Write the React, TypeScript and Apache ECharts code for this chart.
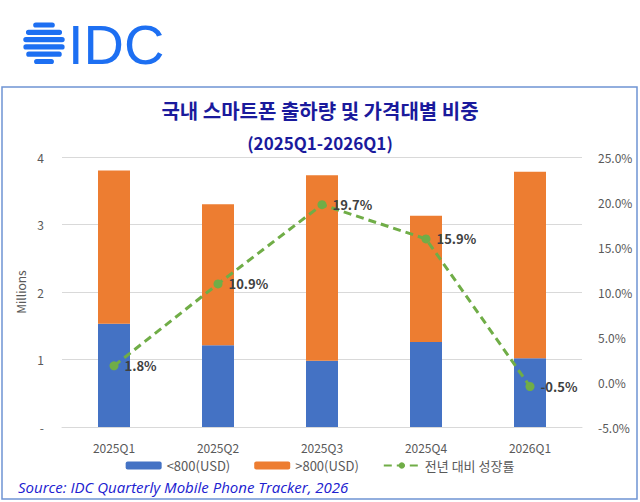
import { useEffect, useRef } from "react";
import * as echarts from "echarts";

const quarters = ["2025Q1", "2025Q2", "2025Q3", "2025Q4", "2026Q1"];
const under800 = [1.53, 1.21, 0.98, 1.26, 1.02];
const over800 = [2.27, 2.09, 2.75, 1.87, 2.76];
const yoyGrowth = [1.8, 10.9, 19.7, 15.9, -0.5];

const FONT = "'Noto Sans CJK KR', 'Noto Sans', sans-serif";

export default function App() {
  const ref = useRef<HTMLDivElement>(null);

  useEffect(() => {
    document.body.style.margin = "0";
    if (!ref.current) return;
    const chart = echarts.init(ref.current, null, { renderer: "svg" });

    const stripes = [0, 1, 2, 3, 4, 5].map((i) => {
      const cy = 22 + i * 7.3 + 3;
      const r = 21;
      const dy = cy - 43;
      const half = Math.sqrt(Math.max(r * r - dy * dy, 0));
      return {
        type: "rect",
        shape: { x: 44 - half, y: cy - 2.6, width: half * 2, height: 5.2, r: 2.6 },
        style: { fill: "#1d6ff2" },
      };
    });

    chart.setOption({
      animation: false,
      textStyle: { fontFamily: FONT },
      title: [
        {
          text: "국내 스마트폰 출하량 및 가격대별 비중",
          left: "center",
          top: 95,
          textStyle: { fontSize: 20, fontWeight: "bold", color: "#1a1a9c", fontFamily: FONT },
        },
        {
          text: "(2025Q1-2026Q1)",
          left: "center",
          top: 129,
          textStyle: { fontSize: 17, fontWeight: "bold", color: "#1a1a9c", fontFamily: FONT },
        },
      ],
      graphic: [
        {
          type: "rect",
          shape: { x: 2, y: 87, width: 635, height: 412 },
          style: { fill: "none", stroke: "#6f94d4", lineWidth: 1.5 },
        },
        ...stripes,
        {
          type: "text",
          x: 68,
          y: 16,
          style: {
            text: "IDC",
            fontSize: 56,
            fontFamily: "'Liberation Sans', Arial, sans-serif",
            fill: "#1d6ff2",
          },
        },
        {
          type: "text",
          x: 18,
          y: 479,
          style: {
            text: "Source: IDC Quarterly Mobile Phone Tracker, 2026",
            fontSize: 15,
            fontStyle: "italic",
            fontFamily: "'Open Sans', 'Noto Sans', sans-serif",
            fill: "#2020d0",
          },
        },
      ],
      legend: {
        top: 454,
        left: "center",
        itemGap: 24,
        itemWidth: 36,
        itemHeight: 8,
        textStyle: { fontSize: 13, color: "#595959" },
        data: [
          { name: "<800(USD)" },
          { name: ">800(USD)" },
          { name: "전년 대비 성장률" },
        ],
      },
      grid: { left: 62, right: 58, top: 157, bottom: 75 },
      xAxis: {
        type: "category",
        data: quarters,
        axisTick: { show: false },
        axisLine: { lineStyle: { color: "#d9d9d9" } },
        axisLabel: { color: "#595959", fontSize: 12, margin: 14 },
      },
      yAxis: [
        {
          type: "value",
          min: 0,
          max: 4,
          interval: 1,
          name: "Millions",
          nameLocation: "middle",
          nameGap: 30,
          nameTextStyle: { color: "#595959", fontSize: 12 },
          axisLabel: {
            color: "#595959",
            fontSize: 12,
            margin: 18,
            formatter: (v: number) => (v === 0 ? "-" : String(v)),
          },
          splitLine: { lineStyle: { color: "#d9d9d9" } },
        },
        {
          type: "value",
          min: -5,
          max: 25,
          interval: 5,
          axisLabel: {
            color: "#595959",
            fontSize: 12,
            margin: 16,
            formatter: (v: number) => v.toFixed(1) + "%",
          },
          splitLine: { show: false },
        },
      ],
      series: [
        {
          name: "<800(USD)",
          type: "bar",
          stack: "total",
          barWidth: 32,
          data: under800,
          itemStyle: { color: "#4472c4" },
        },
        {
          name: ">800(USD)",
          type: "bar",
          stack: "total",
          barWidth: 32,
          data: over800,
          itemStyle: { color: "#ed7d31" },
        },
        {
          name: "전년 대비 성장률",
          type: "line",
          yAxisIndex: 1,
          data: yoyGrowth,
          symbol: "circle",
          symbolSize: 9,
          lineStyle: { color: "#70ad47", width: 3, type: [8, 5] },
          itemStyle: { color: "#70ad47" },
          label: {
            show: true,
            position: "right",
            distance: 6,
            fontWeight: "bold",
            fontSize: 13,
            color: "#404040",
            formatter: (p: any) => p.value.toFixed(1) + "%",
          },
        },
      ],
    });

    return () => chart.dispose();
  }, []);

  return <div ref={ref} style={{ width: 640, height: 502 }} />;
}
